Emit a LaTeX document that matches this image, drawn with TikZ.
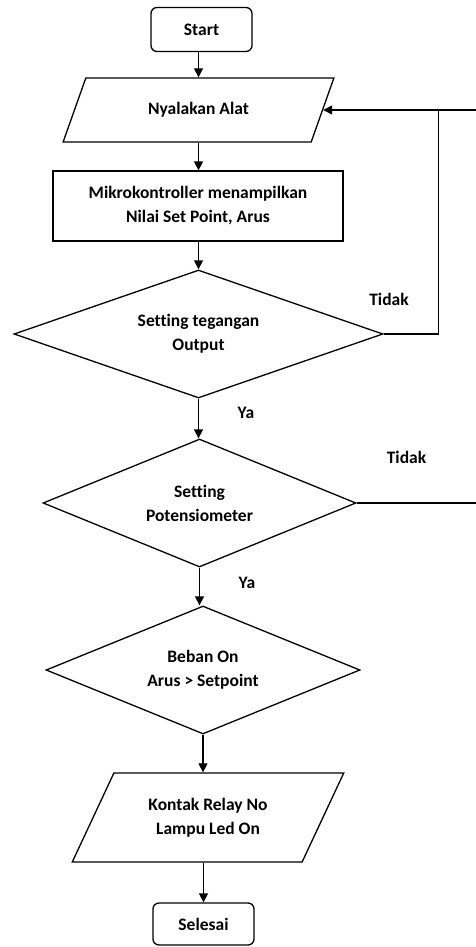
\documentclass[tikz,border=0pt]{standalone}
\usepackage{fontspec}
\setmainfont{Carlito}[Ligatures={NoCommon}]
\usetikzlibrary{arrows.meta, positioning, shapes.geometric}

\begin{document}
\begin{tikzpicture}[
    x=1pt, y=-1pt,
    every node/.style={font=\fontsize{17.5}{24}\selectfont\bfseries},
    term/.style={rectangle, draw, line width=1.3pt, rounded corners=6pt,
                 minimum width=101pt, minimum height=44pt, align=center},
    io/.style={trapezium, draw, line width=1.3pt, trapezium stretches=true,
               trapezium left angle=56, trapezium right angle=124,
               inner sep=0pt, align=center},
    proc/.style={rectangle, draw, line width=1.3pt, minimum width=290pt,
                 minimum height=70pt, align=center},
    decide/.style={diamond, draw, line width=1.3pt, aspect=2.5,
                   minimum height=128pt, inner sep=0pt, align=center},
    arr/.style={-{Triangle[length=9pt, width=9pt]}, line width=1.3pt},
    conn/.style={line width=1.3pt},
    lbl/.style={font=\fontsize{17.5}{20}\selectfont\bfseries},
]
    \useasboundingbox (0,0) rectangle (476,947);

    % -- main flow --
    \node[term] (start) at (201.5,29.5) {Start};
    \node[io, minimum width=271pt, minimum height=64pt] (alat) at (198.5,110)
        {Nyalakan Alat};
    \node[proc] (tampil) at (198,206)
        {Mikrokontroller menampilkan\\Nilai Set Point, Arus};
    \node[decide, minimum width=369pt] (tegangan) at (198.5,334)
        {Setting tegangan\\Output};
    \node[decide, minimum width=313pt] (poten) at (199.5,503)
        {Setting\\Potensiometer};
    \node[decide, minimum width=314pt] (beban) at (203,670)
        {Beban On\\Arus > Setpoint};
    \node[io, minimum width=272pt, minimum height=89pt] (relay) at (208,817.5)
        {Kontak Relay No\\Lampu Led On};
    \node[term, minimum height=42pt] (selesai) at (203.5,924) {Selesai};

    \draw[arr] (start.south -| alat.north) -- (alat.north);
    \draw[arr] (alat.south) -- (alat.south |- tampil.north);
    \draw[arr] (tampil.south -| tegangan.north) -- (tegangan.north);
    \draw[arr] (tegangan.south) -- (tegangan.south |- poten.north);
    \draw[arr] (poten.south) -- (poten.south |- beban.north);
    \draw[arr] (beban.south) -- (beban.south |- relay.north);
    \draw[arr] (relay.south -| selesai.north) -- (selesai.north);

    % -- Tidak loops back --
    \draw[arr] (tegangan.east) -- ++(55,0) coordinate (balik) |- (alat.east);
    \draw[conn] (poten.east) -- ++(140,0) |- (balik |- alat.east);

    % -- labels --
    \node[lbl] (tidak1) at (389,299) {Tidak};
    \node[lbl] (tidak2) at (406.5,457) {Tidak};
    \node[lbl] (ya1) at (246,413) {Ya};
    \node[lbl] (ya2) at (247,583) {Ya};
\end{tikzpicture}
\end{document}
